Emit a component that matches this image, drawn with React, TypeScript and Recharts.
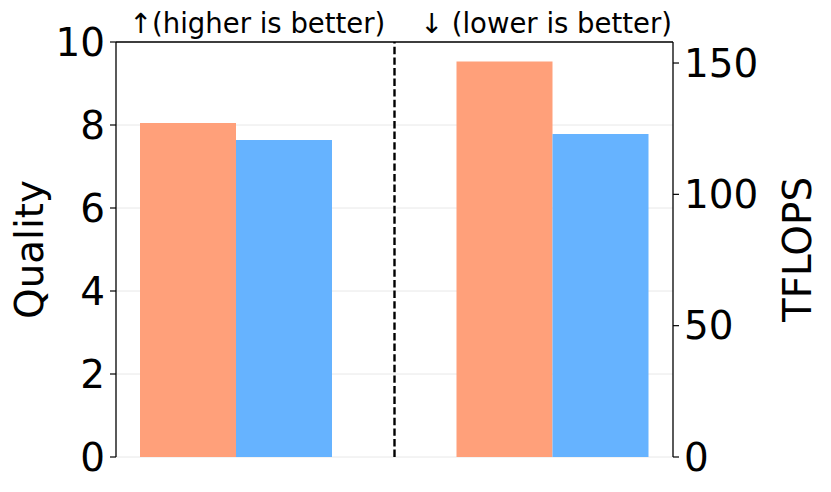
import React from 'react';
import { BarChart, Bar, XAxis, YAxis, CartesianGrid, ReferenceLine } from 'recharts';

const categories = ['Quality', 'TFLOPS'];
const orangeValues = [8.05, 150.6];
const blueValues = [7.64, 123.0];
const qualityTicks = [0, 2, 4, 6, 8, 10];
const tflopsTicks = [0, 50, 100, 150];
const titles = ['\u2191(higher is better)', '\u2193 (lower is better)'];

const data = categories.map((cat, i) => ({
  cat,
  idx: i,
  qa: i === 0 ? orangeValues[i] : undefined,
  qb: i === 0 ? blueValues[i] : undefined,
  ta: i === 1 ? orangeValues[i] : undefined,
  tb: i === 1 ? blueValues[i] : undefined,
}));

const FONT = '"DejaVu Sans", Verdana, sans-serif';
const ORANGE = '#FFA07A';
const BLUE = '#66B3FF';
const PAD = { left: -38, right: -38 };

const TitleContent = (p: any) => {
  const vb = p.viewBox || { x: 0, y: 0, width: 0, height: 0 };
  return (
    <g>
      <text x={vb.x + 13} y={vb.y - 8} textAnchor="start" fontSize={27.5} fontFamily={FONT} fill="#000">
        {titles[0]}
      </text>
      <text x={vb.x + vb.width - 1} y={vb.y - 8} textAnchor="end" fontSize={27.5} fontFamily={FONT} fill="#000">
        {titles[1]}
      </text>
    </g>
  );
};

const LeftLabel = (p: any) => {
  const vb = p.viewBox || { x: 0, y: 0, width: 0, height: 0 };
  const cx = vb.x + 21;
  const cy = vb.y + vb.height / 2;
  return (
    <text x={cx} y={cy} transform={`rotate(-90 ${cx} ${cy})`} textAnchor="middle" dominantBaseline="central" fontSize={38.9} fontFamily={FONT} fill="#000">
      Quality
    </text>
  );
};

const RightLabel = (p: any) => {
  const vb = p.viewBox || { x: 0, y: 0, width: 0, height: 0 };
  const cx = vb.x + 124;
  const cy = vb.y + vb.height / 2;
  return (
    <text x={cx} y={cy} transform={`rotate(-90 ${cx} ${cy})`} textAnchor="middle" dominantBaseline="central" fontSize={38.9} fontFamily={FONT} fill="#000">
      TFLOPS
    </text>
  );
};

const tickStyle = { fontSize: 38.9, fontFamily: FONT, fill: '#000' };

export default function App() {
  return (
    <div style={{ width: 815, height: 476, background: '#fff' }}>
      <BarChart
        width={815}
        height={476}
        data={data}
        margin={{ top: 33, right: 0, bottom: 0, left: 0 }}
        barGap={0}
      >
        <CartesianGrid yAxisId="left" xAxisId="q" vertical={false} stroke="#e8e8e8" strokeWidth={1} />
        <XAxis
          xAxisId="q"
          dataKey="cat"
          type="category"
          padding={PAD}
          tick={false}
          tickLine={false}
          axisLine={{ stroke: '#000', strokeWidth: 1.3 }}
          height={27}
        />
        <XAxis xAxisId="t" dataKey="cat" type="category" padding={PAD} hide />
        <XAxis
          xAxisId="n"
          dataKey="idx"
          type="number"
          domain={[-0.5, 1.5]}
          allowDataOverflow
          padding={PAD}
          hide
        />
        <XAxis
          xAxisId="top"
          dataKey="cat"
          type="category"
          orientation="top"
          tick={false}
          tickLine={false}
          axisLine={{ stroke: '#000', strokeWidth: 1.3 }}
          height={1}
          label={{ content: TitleContent }}
        />
        <YAxis
          yAxisId="left"
          orientation="left"
          domain={[0, 10]}
          ticks={qualityTicks}
          interval={0}
          width={108}
          tick={tickStyle}
          tickSize={6}
          tickMargin={5}
          tickLine={{ stroke: '#000', strokeWidth: 1.2 }}
          axisLine={{ stroke: '#000', strokeWidth: 1.3 }}
          label={{ content: LeftLabel }}
        />
        <YAxis
          yAxisId="right"
          orientation="right"
          domain={[0, 158]}
          ticks={tflopsTicks}
          interval={0}
          width={150}
          tick={tickStyle}
          tickSize={6}
          tickMargin={5}
          tickLine={{ stroke: '#000', strokeWidth: 1.2 }}
          axisLine={{ stroke: '#000', strokeWidth: 1.3 }}
          label={{ content: RightLabel }}
        />
        <Bar dataKey="qa" xAxisId="q" yAxisId="left" fill={ORANGE} barSize={96} isAnimationActive={false} />
        <Bar dataKey="qb" xAxisId="q" yAxisId="left" fill={BLUE} barSize={96} isAnimationActive={false} />
        <Bar dataKey="ta" xAxisId="t" yAxisId="right" fill={ORANGE} barSize={96} isAnimationActive={false} />
        <Bar dataKey="tb" xAxisId="t" yAxisId="right" fill={BLUE} barSize={96} isAnimationActive={false} />
        <ReferenceLine
          x={0.5}
          xAxisId="n"
          yAxisId="left"
          stroke="#000"
          strokeWidth={2.4}
          strokeDasharray="7.4 3.2"
        />
      </BarChart>
    </div>
  );
}
